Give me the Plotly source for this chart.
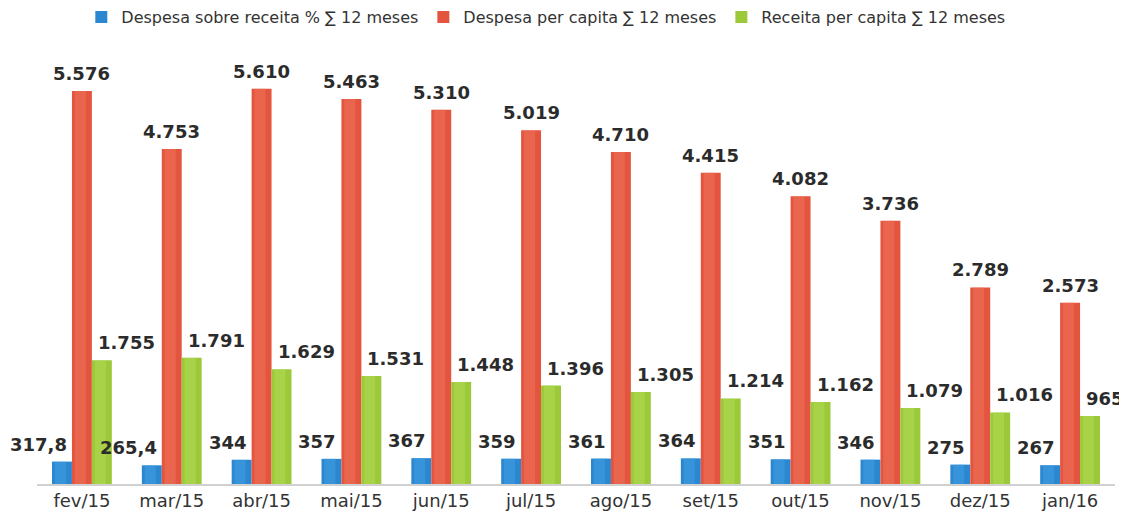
import plotly.graph_objects as go

categories = ["fev/15", "mar/15", "abr/15", "mai/15", "jun/15", "jul/15",
              "ago/15", "set/15", "out/15", "nov/15", "dez/15", "jan/16"]
despesa_sobre_receita = [317.8, 265.4, 344, 357, 367, 359, 361, 364, 351, 346, 275, 267]
despesa_per_capita = [5576, 4753, 5610, 5463, 5310, 5019, 4710, 4415, 4082, 3736, 2789, 2573]
receita_per_capita = [1755, 1791, 1629, 1531, 1448, 1396, 1305, 1214, 1162, 1079, 1016, 965]
labels_blue = ["317,8", "265,4", "344", "357", "367", "359", "361", "364", "351", "346", "275", "267"]
labels_red = ["5.576", "4.753", "5.610", "5.463", "5.310", "5.019", "4.710", "4.415", "4.082", "3.736", "2.789", "2.573"]
labels_green = ["1.755", "1.791", "1.629", "1.531", "1.448", "1.396", "1.305", "1.214", "1.162", "1.079", "1.016", "965"]

W = 0.222
# (name, values, labels, colours, position, label anchor, label x in bar-width units, xshift)
series = [
    ("Despesa sobre receita % \u2211 12 meses", despesa_sobre_receita, labels_blue,
     ["#1f6fb0", "#2b88d0", "#4aa3e6"], -1, "right", 0.5, -3),
    ("Despesa per capita \u2211 12 meses", despesa_per_capita, labels_red,
     ["#c9402c", "#e4553f", "#f07a62"], 0, "center", 0.0, 0),
    ("Receita per capita \u2211 12 meses", receita_per_capita, labels_green,
     ["#7fae22", "#9bc93a", "#b9e05e"], 1, "left", -0.5, 4),
]

fig = go.Figure()
annotations = []
for name, vals, labs, cols, pos, anchor, lx, xs in series:
    center = pos * W
    fig.add_trace(go.Bar(x=categories, y=vals, name=name, width=W, offset=center - W / 2,
                         marker=dict(color=cols[1], line=dict(width=0))))
    fig.add_trace(go.Bar(x=categories, y=vals, width=W * 0.55, offset=center - W * 0.55 / 2 - W * 0.08,
                         marker=dict(color=cols[2], line=dict(width=0), opacity=0.45),
                         showlegend=False, hoverinfo="skip"))
    for i, (v, t) in enumerate(zip(vals, labs)):
        annotations.append(dict(x=i + center + lx * W, y=v, xref="x", yref="y", text=t, showarrow=False,
                                xanchor=anchor, xshift=xs, yanchor="bottom", yshift=5,
                                font=dict(family="DejaVu Sans", size=18, color="#2b2b2b", weight="bold")))

fig.update_layout(
    barmode="overlay",
    width=1119, height=508,
    margin=dict(l=29, r=12, t=32, b=32),
    paper_bgcolor="white", plot_bgcolor="white",
    font=dict(family="DejaVu Sans", color="#333333"),
    legend=dict(orientation="h", x=0.472, xanchor="center", xref="paper",
                y=0.982, yref="container", yanchor="middle",
                font=dict(size=16, color="#333333"), itemwidth=30, tracegroupgap=0),
    annotations=annotations,
    showlegend=True,
)
fig.update_xaxes(type="category", showline=True, linecolor="#d0d0d0", linewidth=1.5, ticks="",
                 tickfont=dict(size=18, color="#333333"), range=[-0.5, 11.5], showgrid=False,
                 automargin=False)
fig.update_yaxes(range=[0, 6300], visible=False, showgrid=False, automargin=False)

fig.write_html("out.html")
